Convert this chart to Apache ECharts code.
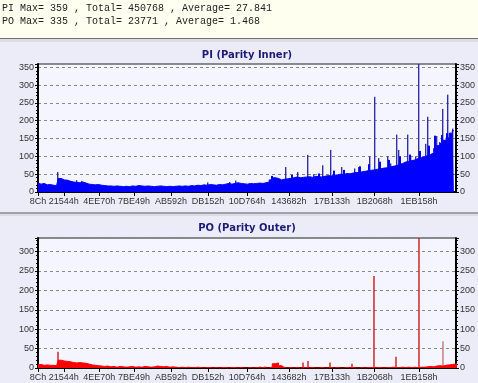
<!DOCTYPE html>
<html><head><meta charset="utf-8">
<script src="https://cdn.jsdelivr.net/npm/echarts@6/dist/echarts.min.js"></script>
<style>html,body{margin:0;padding:0;background:#ececf8;}#c{width:478px;height:383px;}</style>
</head><body><div id="c"></div>
<script>
// ---- data ----
const statLines = [
  "PI Max= 359 , Total= 450768 , Average= 27.841",
  "PO Max= 335 , Total= 23771 , Average= 1.468"
];
const titles = ["PI (Parity Inner)", "PO (Parity Outer)"];
const xTickLabels = ["8Ch","21544h","4EE70h","7BE49h","AB592h","DB152h","10D764h","143682h","17B133h","1B2068h","1EB158h"];
const xMin = 140, xMax = 2206800;
const sampleStart = 140, sampleStep = 16384;
const piMax = 359, poMax = 335;
// PI base level per sample (LBA = sampleStart + i*sampleStep)
const piBase = [25,22,24,20,21,19,18,38,34,33,30,28,27,26,28,25,22,21,20,21,
  19,18,17,17,16,17,16,15,16,15,17,16,18,17,16,17,16,15,16,17,
  16,15,16,15,16,17,16,17,16,18,17,19,18,20,19,21,20,19,21,20,
  22,24,22,24,26,24,23,22,24,23,24,25,24,26,28,34,40,38,34,36,
  37,38,40,42,40,41,42,43,41,44,43,42,44,46,45,47,48,50,49,52,
  51,53,55,54,57,58,60,61,62,64,65,67,68,70,72,74,77,80,84,86,
  88,90,94,96,99,102,105,110,122,130,136,145,152,165,172];
// PI isolated spikes: [LBA, value]
const piSpikes = [[105720,56],[206020,33],[232420,31],[897570,27],[1013710,28],[1045380,32],
  [1309330,70],[1372680,56],[1425470,104],[1457140,50],[1504660,75],[1546890,118],
  [1604960,70],[1673580,66],[1694700,70],[1752770,100],[1779160,267],[1800280,95],
  [1847790,100],[1863630,80],[1895300,161],[1905860,118],[1953370,161],[1969210,100],
  [1995600,100],[2011440,359],[2048390,135],[2058950,211],[2095900,125],[2106460,157],
  [2122300,140],[2138140,233],[2164530,273],[2190930,178]];
// PI small ragged peaks on top of the base
const piRagged = [[1235400,45],[1341000,48],[1483500,52],[1562700,60],[1615500,62],
  [1700000,72],[1747500,78],[1805600,85],[1853100,90],[1911200,100],[1964000,105],
  [2016800,115],[2064300,130],[2096000,158],[2133000,160],[2159400,165]];
// PO base level per sample
const poBase = [8,9,7,8,7,7,6,20,18,17,16,14,13,14,13,12,10,8,7,6,
  5,4,5,3,4,2,4,3,2,3,4,2,3,2,4,3,2,3,5,4,
  3,4,2,3,2,1,2,1,2,1,1,2,1,0,1,1,0,1,0,1,
  1,0,1,1,0,1,0,0,1,0,1,0,1,0,0,3,11,13,6,1,
  0,1,0,1,0,0,1,0,1,0,0,1,0,0,1,0,1,0,0,1,
  0,1,0,0,1,0,1,1,0,1,1,0,1,1,2,1,1,2,1,2,
  1,2,1,2,2,3,4,3,5,6,5,7,8,9,10,12,13,12,13];
// PO isolated spikes
const poSpikes = [[105720,42],[1172220,4],[1198610,4],[1399215,14],[1425470,18],[1541750,14],
  [1657750,11],[1773880,237],[1890020,29],[2011440,335]];
const poSpikesLight = [[2138140,69]];

// ---- build ----
const toPairs = (arr) => arr.map((v, i) => [sampleStart + i * sampleStep, v]);
const tickVals = xTickLabels.map(h => parseInt(h, 16));
const hexOf = {}; xTickLabels.forEach((h, i) => hexOf[tickVals[i]] = h);

const font = 'Liberation Sans';
function xAxisCfg(gi) {
  return {
    type: 'value', gridIndex: gi, min: xMin, max: xMax,
    axisLine: { show: true, lineStyle: { color: '#000', width: 2 } },
    axisTick: { show: true, customValues: tickVals, length: 4, lineStyle: { color: '#000' } },
    axisLabel: { customValues: tickVals, formatter: v => hexOf[v] || '', color: '#333',
      fontFamily: font, fontSize: 9, margin: 5 },
    splitLine: { show: false }
  };
}
function yAxisCfg(gi, max, pos) {
  return {
    type: 'value', gridIndex: gi, min: 0, max: max, interval: 50, position: pos,
    axisLine: { show: true, onZero: false, lineStyle: { color: '#000', width: 2 } },
    axisTick: { show: true, length: 3, lineStyle: { color: '#000' } },
    minorTick: { show: true, splitNumber: 5, length: 2, lineStyle: { color: '#000' } },
    axisLabel: { color: '#333', fontFamily: font, fontSize: 9, margin: 4,
      showMaxLabel: false, formatter: v => (v % 50 === 0 ? v : '') },
    splitLine: { show: pos === 'left', lineStyle: { color: '#888', type: [3, 3], width: 1 } }
  };
}

const chart = echarts.init(document.getElementById('c'), null, { renderer: 'canvas' });
chart.setOption({
  animation: false,
  backgroundColor: '#ececf8',
  graphic: [
    { type: 'rect', z: -10, shape: { x: 0, y: 0, width: 478, height: 38 }, style: { fill: '#fffff0' } },
    { type: 'rect', z: -10, shape: { x: 0, y: 38, width: 478, height: 1 }, style: { fill: '#707070' } },
    { type: 'rect', z: -10, shape: { x: 0, y: 39, width: 478, height: 3 }, style: { fill: '#dcdce4' } },
    { type: 'rect', z: -10, shape: { x: 0, y: 212, width: 478, height: 2 }, style: { fill: '#a0a0a8' } },
    { type: 'rect', z: -10, shape: { x: 0, y: 214, width: 478, height: 2 }, style: { fill: '#dcdce4' } },
    { type: 'text', style: { text: statLines[0], x: 2, y: 8, fill: '#222', font: '10px "Liberation Mono"', verticalAlign: 'middle' } },
    { type: 'text', style: { text: statLines[1], x: 2, y: 21, fill: '#222', font: '10px "Liberation Mono"', verticalAlign: 'middle' } },
    { type: 'text', style: { text: titles[0], x: 247, y: 55, fill: '#1c1c78', font: 'bold 10px "DejaVu Sans"', align: 'center', verticalAlign: 'middle' } },
    { type: 'text', style: { text: titles[1], x: 247, y: 228, fill: '#1c1c78', font: 'bold 10px "DejaVu Sans"', align: 'center', verticalAlign: 'middle' } }
  ],
  grid: [
    { left: 38, top: 64, width: 418, height: 128, show: true, backgroundColor: '#f5f5ff', borderColor: '#222', borderWidth: 1 },
    { left: 38, top: 238, width: 418, height: 130, show: true, backgroundColor: '#f5f5ff', borderColor: '#222', borderWidth: 1 }
  ],
  xAxis: [xAxisCfg(0), xAxisCfg(1)],
  yAxis: [yAxisCfg(0, piMax, 'left'), yAxisCfg(0, piMax, 'right'), yAxisCfg(1, poMax, 'left'), yAxisCfg(1, poMax, 'right')],
  series: [
    { type: 'bar', xAxisIndex: 0, yAxisIndex: 0, data: piSpikes, barWidth: 1.4, barGap: '-100%', z: 1,
      itemStyle: { color: '#2e2ea8' } },
    { type: 'bar', xAxisIndex: 0, yAxisIndex: 0, data: piRagged, barWidth: 2, barGap: '-100%', z: 3,
      itemStyle: { color: '#0000ff' } },
    { type: 'line', xAxisIndex: 0, yAxisIndex: 0, data: toPairs(piBase), step: 'middle', symbol: 'none', z: 2,
      lineStyle: { color: '#0000ff', width: 1 }, areaStyle: { color: '#0000ff', opacity: 1 } },
    { type: 'bar', xAxisIndex: 1, yAxisIndex: 2, data: poSpikes, barWidth: 1.4, barGap: '-100%', z: 1,
      itemStyle: { color: '#d01818' } },
    { type: 'bar', xAxisIndex: 1, yAxisIndex: 2, data: poSpikesLight, barWidth: 1.4, barGap: '-100%', z: 1,
      itemStyle: { color: '#c07878' } },
    { type: 'line', xAxisIndex: 1, yAxisIndex: 2, data: toPairs(poBase), step: 'middle', symbol: 'none', z: 2,
      lineStyle: { color: '#ff0000', width: 1 }, areaStyle: { color: '#ff0000', opacity: 1 } }
  ]
});
</script></body></html>
